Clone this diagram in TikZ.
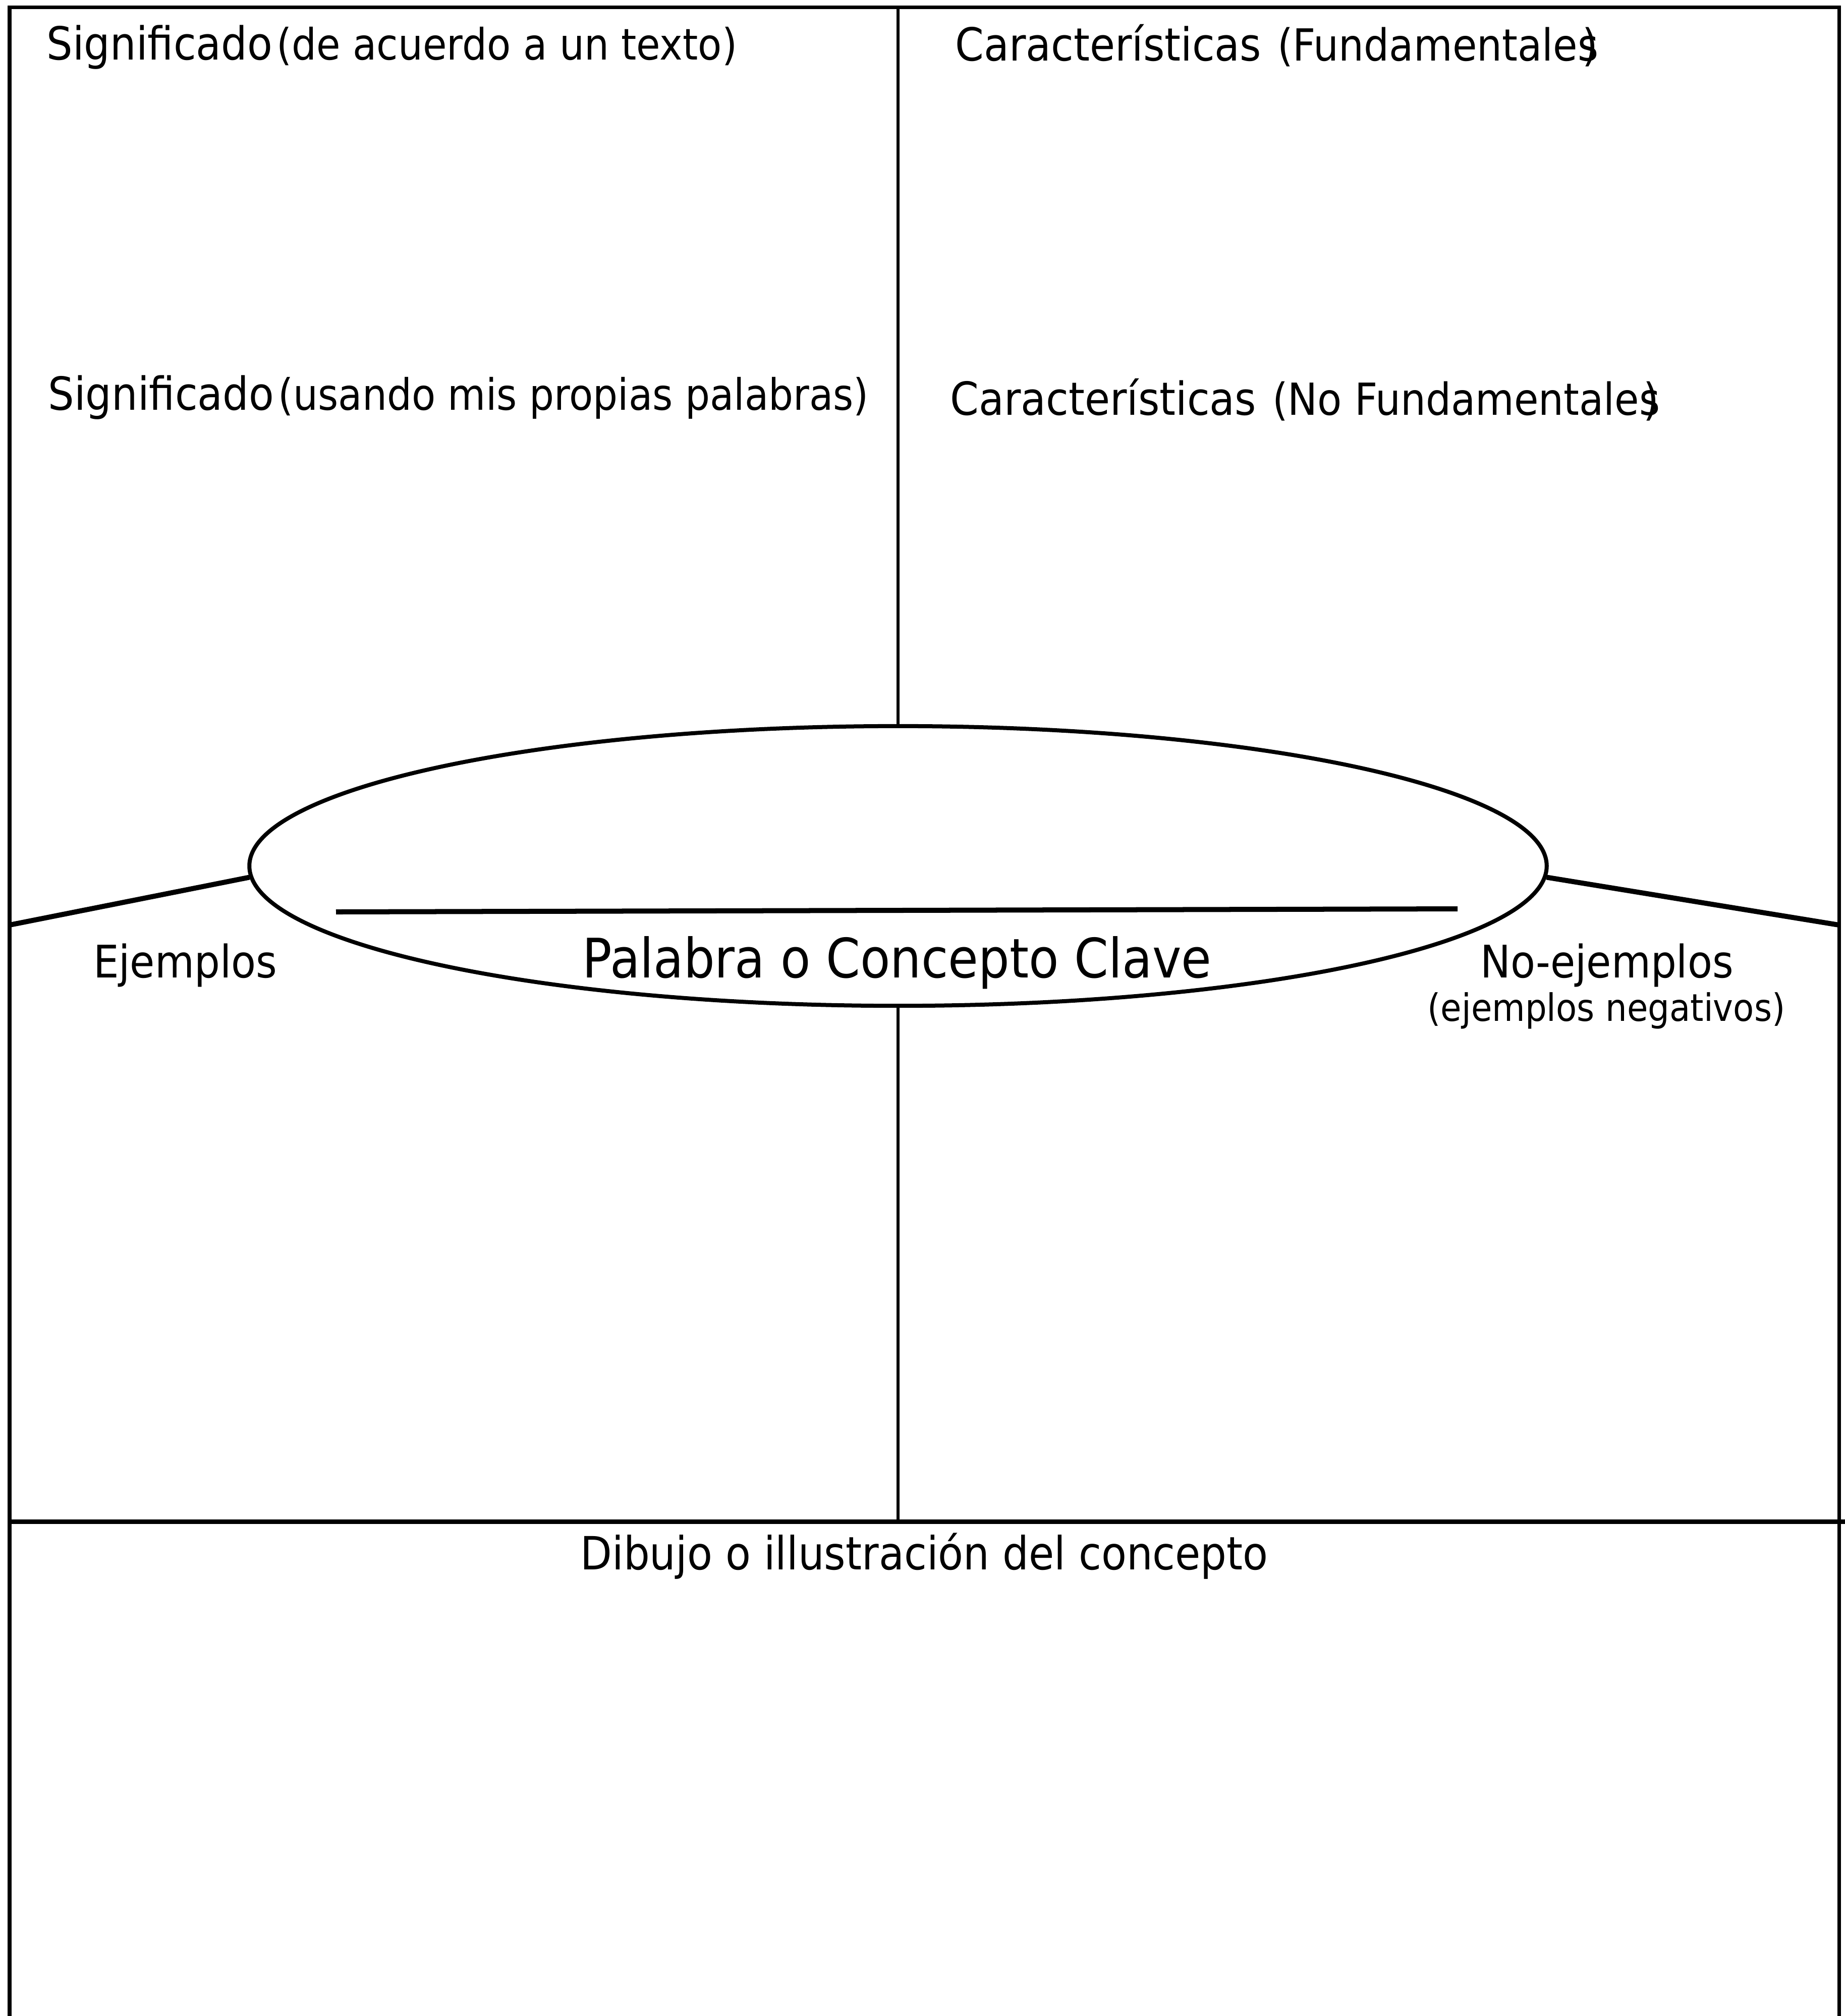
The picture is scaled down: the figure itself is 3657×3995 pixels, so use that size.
\documentclass[tikz,border=0pt]{standalone}
\usepackage{fontspec}
\setmainfont{DejaVu Sans}[FakeStretch=0.9]
\usetikzlibrary{shapes.geometric}
\newcommand{\palclave}[1]{{\fontsize{25.7}{30}\selectfont #1}}
\begin{document}
\begin{tikzpicture}[x=0.01cm,y=-0.01cm,
    marco/.style={line width=0.07cm},
    raya/.style={line width=0.1cm},
    titulo/.style={inner sep=0pt,anchor=base west,font=\fontsize{24.4}{30}\selectfont},
    etiqueta/.style={inner sep=0pt,anchor=base,font=\fontsize{25.3}{30}\selectfont}]
  \useasboundingbox (0,0) rectangle (3657,3995);
  \coordinate (so) at (19,14);
  \coordinate (se) at (3645,14);
  \coordinate (io) at (19,3995);
  \coordinate (ie) at (3645,3995);
  \draw[marco] (io) -- (so) -- (se) -- (ie);
  \node[draw,ellipse,line width=0.08cm,inner sep=0pt,minimum width=25.7cm,minimum height=5.54cm] (clave) at (1780,1716) {};
  \coordinate (arriba) at (1780,14);
  \coordinate (medio) at (1780,3015);
  \draw[line width=0.06cm] (arriba) -- (clave.north);
  \draw[line width=0.06cm] (clave.south) -- (medio);
  \coordinate (ho) at (19,3015);
  \coordinate (he) at (3657,3015);
  \draw[line width=0.09cm] (ho) -- (he);
  \coordinate (lo) at (19,1833);
  \coordinate (le) at (3645,1833);
  \draw[raya] (lo) -- (clave.181);
  \draw[raya] (clave.-1) -- (le);
  \coordinate (ra) at (666,1807);
  \coordinate (rb) at (2889,1801);
  \draw[raya] (ra) -- (rb);
  \node[titulo] (sig1) at (92,118) {\palclave{Significado}\kern0.1em(de acuerdo a un texto)};
  \node[titulo] (sig2) at (95,812) {\palclave{Significado}\kern0.1em(usando mis propias palabras)};
  \node[titulo,font=\fontsize{24.9}{30}\selectfont] (car1) at (1893,120) {\palclave{Características}\kern0.08em\ (Fundamentales\kern-0.36em)};
  \node[titulo,font=\fontsize{24.9}{30}\selectfont] (car2) at (1883,822) {\palclave{Características}\kern0.08em\ (No Fundamentales\kern-0.38em)};
  \node[etiqueta] (ejem) at (367,1937) {Ejemplos};
  \node[inner sep=0pt,anchor=base,font=\fontsize{30.7}{36}\selectfont] (palabra) at (1778,1937) {Palabra o Concepto Clave};
  \node[etiqueta] (noej) at (3185,1937) {No-ejemplos};
  \node[inner sep=0pt,anchor=base,font=\fontsize{21.3}{25}\selectfont] (neg) at (3184,2023) {(ejemplos negativos)};
  \node[etiqueta,font=\fontsize{25.8}{30}\selectfont] (dibujo) at (1832,3110) {Dibujo o illustración del concepto};
\end{tikzpicture}
\end{document}
